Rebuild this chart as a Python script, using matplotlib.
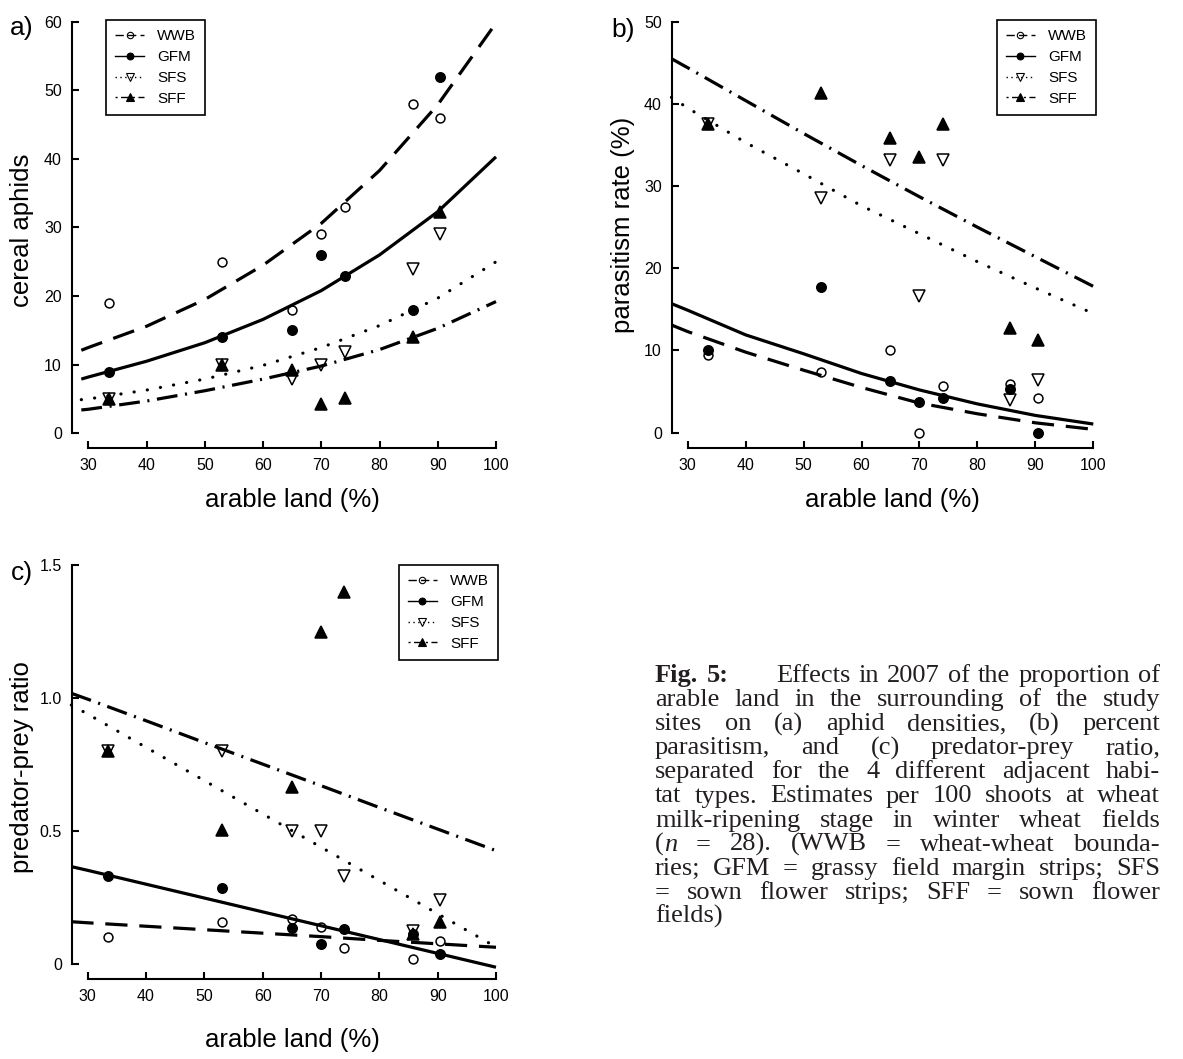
import numpy as np
import matplotlib.pyplot as plt
from matplotlib.lines import Line2D
from matplotlib.transforms import IdentityTransform

plt.rcParams['font.family'] = ['Liberation Sans', 'DejaVu Sans']
plt.rcParams['lines.scale_dashes'] = False

W, H = 1183, 1059

# site positions (arable land, %)
sites = [33.5, 53, 65, 70, 74, 85.7, 90.4]
habitats = ["WWB", "GFM", "SFS", "SFF"]

# a) cereal aphids
aph_wwb = [19, 25, 18, 29, 33, 48, 46]
aph_gfm = [9, 14, 15, 26, 23, 18, 52]
aph_sfs = [5, 10, 7.9, 10, 11.9, 24, 29]
aph_sff = [5, 10, 9.2, 4.2, 5.2, 14, 32.2]
fitx_a = [28.8, 30, 40, 50, 60, 70, 80, 90, 100]
aph_fit_wwb = [12.1, 12.5, 15.6, 19.5, 24.5, 30.6, 38.3, 47.9, 59.8]
aph_fit_gfm = [7.9, 8.2, 10.5, 13.2, 16.6, 20.8, 26.0, 32.3, 40.3]
aph_fit_sfs = [4.9, 5.0, 6.3, 7.9, 9.9, 12.5, 15.7, 19.7, 25.0]
aph_fit_sff = [3.4, 3.5, 4.7, 6.2, 7.9, 9.8, 12.2, 15.3, 19.2]

# b) parasitism rate (%)
par_wwb = [9.5, 7.4, 10, 0, 5.7, 5.9, 4.2]
par_gfm = [10.1, 17.7, 6.3, 3.7, 4.2, 5.3, 0]
par_sfs = [37.5, 28.5, 33.2, 16.6, 33.2, 4.0, 6.4]
par_sff = [37.5, 41.3, 35.9, 33.5, 37.6, 12.7, 11.3]
fitx_bc = [27.2, 30, 40, 50, 60, 70, 80, 90, 100]
par_fit_wwb = [13.1, 12.3, 9.8, 7.6, 5.5, 3.6, 2.3, 1.2, 0.4]
par_fit_gfm = [15.7, 14.9, 11.9, 9.6, 7.2, 5.2, 3.5, 2.1, 1.05]
par_fit_sfs = [40.8, 39.5, 35.3, 31.5, 27.6, 24.2, 20.8, 17.6, 14.5]
par_fit_sff = [45.5, 44.4, 40.4, 36.4, 32.5, 28.7, 25.0, 21.4, 17.8]

# c) predator-prey ratio
pp_wwb = [0.104, 0.158, 0.170, 0.139, 0.060, 0.021, 0.089]
pp_gfm = [0.333, 0.285, 0.135, 0.076, 0.131, 0.113, 0.039]
pp_sfs = [0.80, 0.80, 0.50, 0.50, 0.33, 0.126, 0.24]
pp_sff = [0.80, 0.505, 0.667, 1.25, 1.40, 0.115, 0.158]
pp_fit_wwb = [0.160, 0.156, 0.143, 0.130, 0.117, 0.104, 0.090, 0.077, 0.064]
pp_fit_gfm = [0.367, 0.353, 0.301, 0.249, 0.197, 0.145, 0.093, 0.041, -0.011]
pp_fit_sfs = [0.974, 0.940, 0.815, 0.690, 0.565, 0.440, 0.315, 0.190, 0.065]
pp_fit_sff = [1.018, 0.996, 0.915, 0.833, 0.752, 0.671, 0.589, 0.508, 0.427]

xticks = [30, 40, 50, 60, 70, 80, 90, 100]

# line + marker style per habitat
line_dash = {"WWB": (16, 8.5), "GFM": None, "SFS": (0.1, 9.5), "SFF": (15, 5.5, 1.5, 5.5)}
leg_dash = {"WWB": (6, 3), "GFM": None, "SFS": (1, 2.5), "SFF": (1.5, 2.5, 6, 2.5)}
mk = {"WWB": dict(marker="o", mfc="none", ms=6.4),
      "GFM": dict(marker="o", mfc="black", ms=6.8),
      "SFS": dict(marker="v", mfc="none", ms=8.8),
      "SFF": dict(marker="^", mfc="black", ms=8.8)}


def px(x, y):
    # pixel position (from top-left) -> figure fraction
    return x / W, 1 - y / H


def panel(rect, fitx, fits, pts, xlim, ylim, yticks, yticklabels):
    ax = fig.add_axes(rect)
    for h, fy, py in zip(habitats, fits, pts):
        ln, = ax.plot(fitx, fy, color="black", lw=2.3, solid_capstyle="butt",
                      dash_capstyle="butt", clip_on=False)
        if line_dash[h] is not None:
            ln.set_dashes(line_dash[h])
            if h == "SFS":
                ln.set_dash_capstyle("round")
        ax.plot(sites, py, ls="none", color="black", mec="black", mew=1.1,
                clip_on=False, zorder=3, **mk[h])
    ax.set_xlim(*xlim)
    ax.set_ylim(*ylim)
    ax.set_xticks(xticks)
    ax.set_yticks(yticks)
    ax.set_yticklabels(yticklabels)
    for s in ["top", "right"]:
        ax.spines[s].set_visible(False)
    for s in ["left", "bottom"]:
        ax.spines[s].set_linewidth(1.5)
    ax.spines["left"].set_bounds(yticks[0], yticks[-1])
    ax.spines["bottom"].set_bounds(30, 100)
    ax.tick_params(direction="in", length=5, width=1.5, labelsize=11.5, pad=7)
    ax.patch.set_visible(False)
    return ax


def legend(ax, loc, anchor):
    handles = []
    for h in habitats:
        l = Line2D([], [], color="black", lw=1.0, mec="black", mew=0.8,
                   **dict(mk[h], ms=mk[h]["ms"] * 0.72))
        if leg_dash[h] is not None:
            l.set_dashes(leg_dash[h])
        handles.append(l)
    lg = ax.legend(handles, habitats, loc=loc, bbox_to_anchor=anchor,
                   bbox_transform=fig.transFigure, fontsize=11, frameon=True,
                   fancybox=False, edgecolor="black", framealpha=1,
                   labelspacing=0.45, handlelength=1.9, handletextpad=0.85,
                   borderpad=0.6, borderaxespad=0)
    lg.get_frame().set_linewidth(1.2)


fig = plt.figure(figsize=(W / 100, H / 100), dpi=100)

ax_a = panel([71.7 / W, 1 - 448.3 / H, 424.3 / W, 426.6 / H], fitx_a,
             [aph_fit_wwb, aph_fit_gfm, aph_fit_sfs, aph_fit_sff],
             [aph_wwb, aph_gfm, aph_sfs, aph_sff],
             (27.15, 100), (-2.19, 60), [0, 10, 20, 30, 40, 50, 60],
             ["0", "10", "20", "30", "40", "50", "60"])
ax_b = panel([671.7 / W, 1 - 448.3 / H, 421.6 / W, 426.6 / H], fitx_bc,
             [par_fit_wwb, par_fit_gfm, par_fit_sfs, par_fit_sff],
             [par_wwb, par_gfm, par_sfs, par_sff],
             (27.24, 100), (-1.9, 50), [0, 10, 20, 30, 40, 50],
             ["0", "10", "20", "30", "40", "50"])
ax_c = panel([71.7 / W, 1 - 979.3 / H, 424.3 / W, 414.3 / H], fitx_bc,
             [pp_fit_wwb, pp_fit_gfm, pp_fit_sfs, pp_fit_sff],
             [pp_wwb, pp_gfm, pp_sfs, pp_sff],
             (27.26, 100), (-0.0563, 1.5), [0, 0.5, 1.0, 1.5],
             ["0", "0.5", "1.0", "1.5"])

legend(ax_a, "upper left", px(106, 20))
legend(ax_b, "upper right", px(1096, 20))
legend(ax_c, "upper right", px(498, 565))

# axis labels and panel letters
lab = dict(fontsize=18.5, ha="center", va="center")
fig.text(*px(292, 500), "arable land (%)", **lab)
fig.text(*px(892, 500), "arable land (%)", **lab)
fig.text(*px(292, 1040), "arable land (%)", **lab)
fig.text(*px(22, 230), "cereal aphids", rotation=90, **lab)
fig.text(*px(623, 225), "parasitism rate (%)", rotation=90, **lab)
fig.text(*px(22, 767), "predator-prey ratio", rotation=90, **lab)
fig.text(*px(22, 28), "a)", fontsize=19, ha="center", va="center")
fig.text(*px(623, 30), "b)", fontsize=19, ha="center", va="center")
fig.text(*px(22, 573), "c)", fontsize=19, ha="center", va="center")

# caption, justified
caption = [
    "**Fig.** **5:** QUAD Effects in 2007 of the proportion of",
    "arable land in the surrounding of the study",
    "sites on (a) aphid densities, (b) percent",
    "parasitism, and (c) predator-prey ratio,",
    "separated for the 4 different adjacent habi-",
    "tat types. Estimates per 100 shoots at wheat",
    "milk-ripening stage in winter wheat fields",
    "(_n_ = 28). (WWB = wheat-wheat bounda-",
    "ries; GFM = grassy field margin strips; SFS",
    "= sown flower strips; SFF = sown flower",
    "fields)",
]
cap_x0, cap_x1 = 655, 1160
cap_y0, leading = 682, 24.1
cap_fs = 19
em = cap_fs * 100 / 72

fig.canvas.draw()
rend = fig.canvas.get_renderer()


def segments(word):
    if word.startswith("**"):
        return [(word.strip("*"), "bold")]
    if "_" in word:
        parts = word.split("_")
        return [(p, "italic" if i % 2 else "normal") for i, p in enumerate(parts) if p]
    return [(word, "normal")]


for i, line in enumerate(caption):
    words = line.split()
    objs = []
    widths = []
    for w in words:
        if w == "QUAD":
            objs.append(None)
            widths.append(em * 1.2)
            continue
        segs = []
        tot = 0
        for txt, st in segments(w):
            t = fig.text(0, 0, txt, transform=IdentityTransform(),
                         family=["Liberation Serif", "DejaVu Serif"], fontsize=cap_fs,
                         fontweight="bold" if st == "bold" else "normal",
                         fontstyle="italic" if st == "italic" else "normal",
                         color="#231f20", va="baseline", ha="left")
            bw = t.get_window_extent(renderer=rend).width
            segs.append((t, tot))
            tot += bw
        objs.append(segs)
        widths.append(tot)
    ngap = len(words) - 1
    if i == len(caption) - 1:
        gap = em * 0.25
    else:
        gap = (cap_x1 - cap_x0 - sum(widths)) / ngap
    x = cap_x0
    ybase = H - (cap_y0 + i * leading)
    for segs, w in zip(objs, widths):
        if segs is not None:
            for t, off in segs:
                t.set_position((x + off, ybase))
        x += w + gap

fig.savefig("out.png", dpi=100)
